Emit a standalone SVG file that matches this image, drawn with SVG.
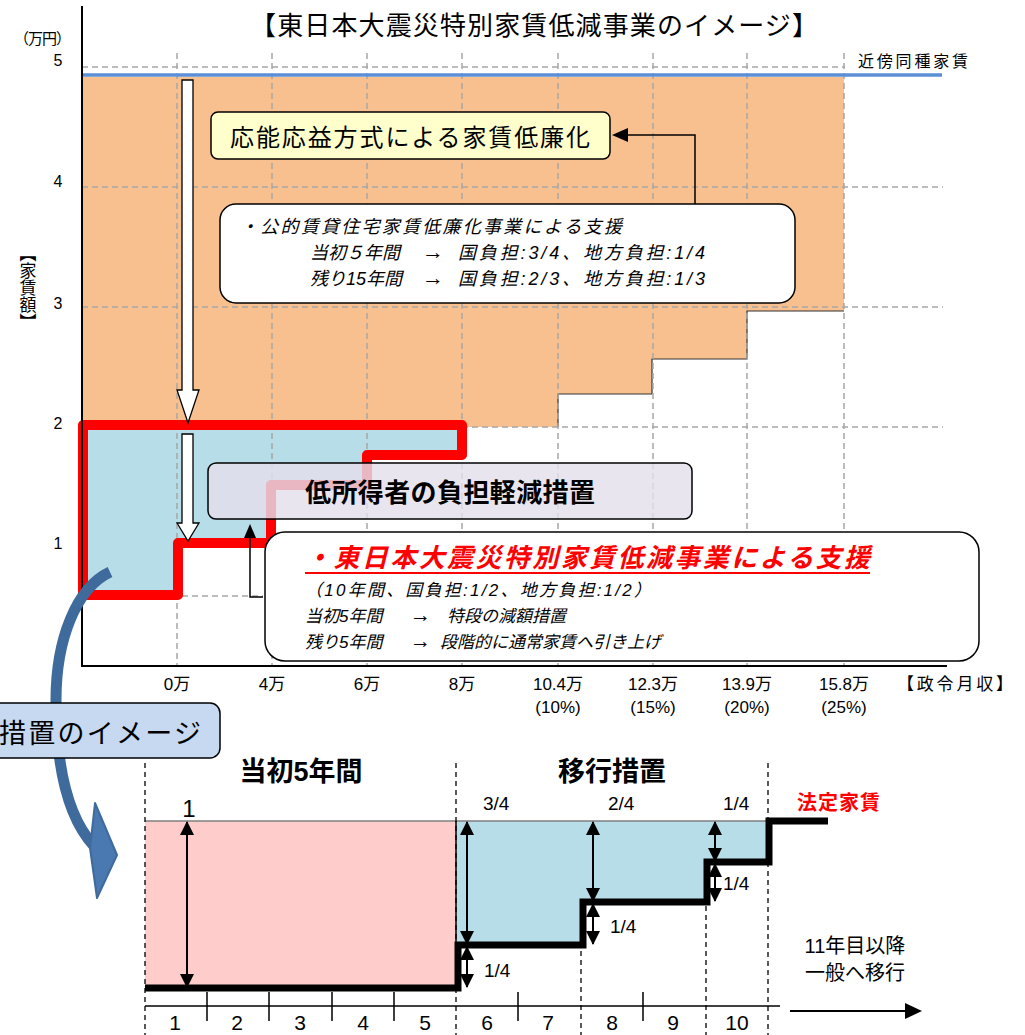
<svg xmlns="http://www.w3.org/2000/svg" width="1025" height="1035" viewBox="0 0 1025 1035">
<style>
.jp{font-family:"Liberation Sans","Noto Sans CJK JP",sans-serif;fill:#000}
.grid{stroke:#A6A6A6;stroke-width:1.5;stroke-dasharray:6 4;fill:none}
.bdash{stroke:#000;stroke-width:1.3;stroke-dasharray:5 4;fill:none}
.it{font-style:italic}
.ax{stroke:#000;stroke-width:2;fill:none}
.dbl{stroke:#000;stroke-width:2;fill:none;marker-start:url(#ah);marker-end:url(#ah)}
</style>
<defs>
<marker id="ah" viewBox="0 0 14 14" refX="13" refY="7" markerWidth="14" markerHeight="14" markerUnits="userSpaceOnUse" orient="auto-start-reverse">
<path d="M0,0 L14,7 L0,14 Z" fill="#000"/>
</marker>
</defs>
<rect width="1025" height="1035" fill="#fff"/>

<g id="top-chart">
<path d="M82,77 H844 V311 H747 V359 H652 V394 H558 V427 H82 Z" fill="#F8C08F"/>
<path d="M558,427 V394 H652 V359 H747 V311 H844" fill="none" stroke="#333" stroke-width="1.2"/>
<path d="M83,425 H462 V455 H367 V485 H271 V543 H178 V595 H83 Z" fill="#B7DDE8"/>
<g id="gridlines">
<path class="grid" d="M82,67 H845 M82,187 H943 M82,307 H943 M82,427 H943"/>
<path class="grid" d="M182,596 H263"/>
<path class="grid" d="M177,53 V666 M272,53 V666 M367,53 V666 M462,53 V666 M558,53 V666 M653,53 V666 M747,53 V666 M844,53 V666"/>
</g>
<line x1="82" y1="75" x2="942" y2="75" stroke="#5B8FD6" stroke-width="3.5"/>
<path d="M83,425 H462 V455 H367 V485 H271 V543 H178 V595 H83 Z" fill="none" stroke="#FF0000" stroke-width="10" stroke-linejoin="round"/>
<path class="ax" d="M82,6 V666 H947"/>
</g>

<g id="axis-labels">
<text class="jp" x="14" y="44" font-size="15" textLength="57">（万円）</text>
<text class="jp" x="58" y="66" font-size="16" text-anchor="middle">5</text>
<text class="jp" x="58" y="187" font-size="16" text-anchor="middle">4</text>
<text class="jp" x="58" y="309" font-size="16" text-anchor="middle">3</text>
<text class="jp" x="58" y="429" font-size="16" text-anchor="middle">2</text>
<text class="jp" x="58" y="549" font-size="16" text-anchor="middle">1</text>
<text class="jp" x="26" y="245" font-size="17" style="writing-mode:vertical-rl">【家賃額】</text>
<text class="jp" x="858" y="67" font-size="16" textLength="110">近傍同種家賃</text>
<g font-size="17" text-anchor="middle">
<text class="jp" x="177" y="690">0万</text>
<text class="jp" x="272" y="690">4万</text>
<text class="jp" x="367" y="690">6万</text>
<text class="jp" x="462" y="690">8万</text>
<text class="jp" x="558" y="690">10.4万</text>
<text class="jp" x="653" y="690">12.3万</text>
<text class="jp" x="747" y="690">13.9万</text>
<text class="jp" x="844" y="690">15.8万</text>
<text class="jp" x="558" y="713">(10%)</text>
<text class="jp" x="653" y="713">(15%)</text>
<text class="jp" x="747" y="713">(20%)</text>
<text class="jp" x="844" y="713">(25%)</text>
</g>
<text class="jp" x="897" y="690" font-size="17" textLength="116">【政令月収】</text>
</g>

<text id="title" class="jp" x="250" y="35" font-size="26" textLength="568">【東日本大震災特別家賃低減事業のイメージ】</text>

<g id="white-arrows" fill="#fff" stroke="#000" stroke-width="1.3">
<path d="M182,80 H193 V390 H199 L188,423 L177,390 H182 Z"/>
<path d="M182,434 H193 V523 H199 L188,541 L177,523 H182 Z"/>
</g>

<g id="box-oueki">
<rect x="211" y="112" width="399" height="47" rx="7" fill="#FFFFCC" stroke="#000" stroke-width="1.5"/>
<text class="jp" x="230" y="146" font-size="24" textLength="360">応能応益方式による家賃低廉化</text>
</g>

<g id="box-koteki">
<rect x="220" y="204" width="575" height="99" rx="16" fill="#fff" stroke="#000" stroke-width="1.5"/>
<text class="jp it" x="240" y="233" font-size="18" textLength="382">・公的賃貸住宅家賃低廉化事業による支援</text>
<text class="jp it" y="259" font-size="18"><tspan x="310">当初５年間</tspan><tspan x="422" font-size="22">→</tspan><tspan x="458" textLength="247">国負担:3/4、地方負担:1/4</tspan></text>
<text class="jp it" y="285" font-size="18"><tspan x="310">残り15年間</tspan><tspan x="422" font-size="22">→</tspan><tspan x="458" textLength="247">国負担:2/3、地方負担:1/3</tspan></text>
</g>

<g id="connectors">
<path d="M695,204 V135 H626" fill="none" stroke="#000" stroke-width="1.5"/>
<path d="M612,135 L628,128 L628,142 Z" fill="#000"/>
<path d="M263,597 H250 V535" fill="none" stroke="#000" stroke-width="1.5"/>
<path d="M250,524 L256,538 L244,538 Z" fill="#000"/>
<path d="M110,572 C76,588 56,640 56,700 C56,780 72,822 94,846" fill="none" stroke="#3F6A9C" stroke-width="11"/>
<path d="M95,803 L117,855 L97,898 L90,848 Z" fill="#4A78B0" stroke="#3F6A9C" stroke-width="2" stroke-linejoin="round"/>
</g>

<g id="box-teishotoku">
<rect x="208" y="463" width="484" height="56" rx="8" fill="#E4DFEC" fill-opacity="0.82" stroke="#000" stroke-width="1.5"/>
<text class="jp" x="305" y="502" font-size="26" font-weight="bold" textLength="290">低所得者の負担軽減措置</text>
</g>

<g id="box-tokubetsu">
<rect x="265" y="532" width="714" height="129" rx="20" fill="#fff" stroke="#000" stroke-width="1.5"/>
<text class="jp it" x="305" y="567" font-size="26" font-weight="bold" style="fill:#FF0000" textLength="565">・東日本大震災特別家賃低減事業による支援</text>
<line x1="305" y1="573" x2="870" y2="573" stroke="#FF0000" stroke-width="2"/>
<text class="jp it" x="305" y="596" font-size="17" textLength="346">（10年間、国負担:1/2、地方負担:1/2）</text>
<text class="jp it" y="622" font-size="17"><tspan x="305">当初5年間</tspan><tspan x="410" font-size="21">→</tspan><tspan x="447">特段の減額措置</tspan></text>
<text class="jp it" y="648" font-size="17"><tspan x="305">残り5年間</tspan><tspan x="410" font-size="21">→</tspan><tspan x="440">段階的に通常家賃へ引き上げ</tspan></text>
</g>

<g id="label-image">
<rect x="-20" y="703" width="240" height="55" rx="10" fill="#C6D9F1" stroke="#000" stroke-width="1.5"/>
<text class="jp" x="-1" y="743" font-size="27" textLength="202">措置のイメージ</text>
</g>

<g id="bottom-chart">
<rect x="145" y="821" width="311" height="167" fill="#FFCCCC"/>
<path d="M456,821 H768 V862 H706 V902 H581 V945 H456 Z" fill="#B7DDE8"/>
<line x1="145" y1="821" x2="768" y2="821" stroke="#7F7F7F" stroke-width="1.5"/>
<line x1="456" y1="821" x2="456" y2="945" stroke="#000" stroke-width="1.5"/>
<path class="bdash" d="M145,763 V1035 M456,763 V1035 M768,763 V1035 M581,906 V1035 M706,906 V1035"/>
<path d="M145,988 H458 V945 H583 V902 H707 V862 H769 V821 H828" fill="none" stroke="#000" stroke-width="7"/>
<line class="dbl" x1="187" y1="822" x2="187" y2="987"/>
<line class="dbl" x1="467" y1="822" x2="467" y2="944"/>
<line class="dbl" x1="467" y1="947" x2="467" y2="987"/>
<line class="dbl" x1="593" y1="822" x2="593" y2="901"/>
<line class="dbl" x1="593" y1="904" x2="593" y2="944"/>
<line class="dbl" x1="715" y1="822" x2="715" y2="861"/>
<line class="dbl" x1="715" y1="864" x2="715" y2="901"/>
<line x1="145" y1="1006" x2="780" y2="1006" stroke="#000" stroke-width="1.5"/>
<path d="M207,992 V1021 M269,992 V1021 M332,992 V1021 M394,992 V1021 M518,992 V1021 M643,992 V1021" stroke="#000" stroke-width="1.5"/>
<line x1="790" y1="1011" x2="908" y2="1011" stroke="#000" stroke-width="2"/>
<path d="M922,1011 L905,1003 L905,1019 Z" fill="#000"/>
</g>

<g id="bottom-labels">
<text class="jp" x="301" y="781" font-size="27" font-weight="bold" text-anchor="middle">当初5年間</text>
<text class="jp" x="612" y="781" font-size="27" font-weight="bold" text-anchor="middle">移行措置</text>
<text class="jp" x="189" y="817" font-size="24" text-anchor="middle">1</text>
<text class="jp" x="483" y="810" font-size="19">3/4</text>
<text class="jp" x="608" y="810" font-size="19">2/4</text>
<text class="jp" x="723" y="810" font-size="19">1/4</text>
<text class="jp" x="484" y="977" font-size="19">1/4</text>
<text class="jp" x="610" y="933" font-size="19">1/4</text>
<text class="jp" x="723" y="890" font-size="19">1/4</text>
<text class="jp" x="797" y="810" font-size="20" font-weight="bold" style="fill:#FF0000" textLength="83">法定家賃</text>
<text class="jp" x="855" y="953" font-size="20" text-anchor="middle">11年目以降</text>
<text class="jp" x="855" y="980" font-size="20" text-anchor="middle">一般へ移行</text>
<g font-size="21" text-anchor="middle">
<text class="jp" x="175" y="1030">1</text>
<text class="jp" x="237" y="1030">2</text>
<text class="jp" x="300" y="1030">3</text>
<text class="jp" x="363" y="1030">4</text>
<text class="jp" x="425" y="1030">5</text>
<text class="jp" x="487" y="1030">6</text>
<text class="jp" x="548" y="1030">7</text>
<text class="jp" x="612" y="1030">8</text>
<text class="jp" x="673" y="1030">9</text>
<text class="jp" x="737" y="1030">10</text>
</g>
</g>
</svg>
